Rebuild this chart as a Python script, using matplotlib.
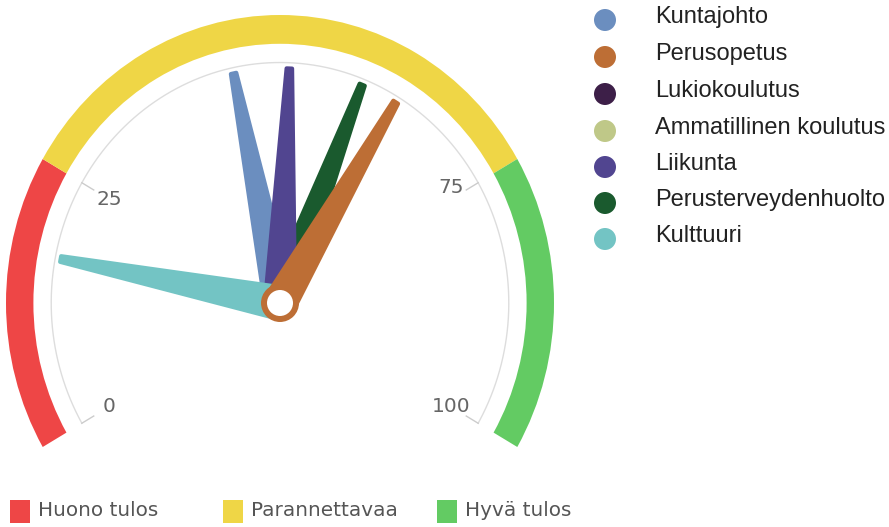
import numpy as np
import matplotlib
matplotlib.use("Agg")
import matplotlib.pyplot as plt
from matplotlib.patches import Wedge, Ellipse, Polygon

# data
series = ["Kuntajohto", "Perusopetus", "Lukiokoulutus", "Ammatillinen koulutus",
          "Liikunta", "Perusterveydenhuolto", "Kulttuuri"]
values = [45, 63, None, None, 51, 59, 17]
series_colors = ["#6b8ebf", "#bd6e35", "#3d1f48", "#bfc888", "#514590", "#1a5a2e", "#73c4c4"]
needle_z = [3, 8, 2, 2, 5, 4, 6]

bands = ["Huono tulos", "Parannettavaa", "Hyvä tulos"]
band_ranges = [(0, 25), (25, 75), (75, 100)]
band_colors = ["#ee4646", "#efd646", "#63cb63"]
tick_values = [0, 25, 75, 100]

W, H = 889, 527
cx, cy = 280, 224          # gauge centre in px (from bottom)
sx, sy = 274, 288          # px per unit

def ang(v):
    # 0 -> 210 deg, 100 -> -30 deg
    return np.deg2rad(210 - 2.4 * v)

fig = plt.figure(figsize=(W / 100, H / 100), dpi=100)
ax = fig.add_axes([0, 0, 1, 1])
ax.set_xlim(-cx / sx, (W - cx) / sx)
ax.set_ylim(-cy / sy, (H - cy) / sy)
ax.axis("off")

# colour bands
for (a, b), c in zip(band_ranges, band_colors):
    ax.add_patch(Wedge((0, 0), 1.0, 210 - 2.4 * b, 210 - 2.4 * a, width=0.1,
                       facecolor=c, edgecolor="none", zorder=1))

# thin grey arc
tt = np.linspace(ang(0), ang(100), 300)
ax.plot(0.835 * np.cos(tt), 0.835 * np.sin(tt), color="#dddddd", lw=1, zorder=1)

# ticks and labels
for v in tick_values:
    t = ang(v)
    ax.plot([0.835 * np.cos(t), 0.785 * np.cos(t)], [0.835 * np.sin(t), 0.785 * np.sin(t)],
            color="#cccccc", lw=1, zorder=1)
    dy = 0.04 if v == 75 else 0.0
    ax.text(0.72 * np.cos(t), 0.72 * np.sin(t) + dy, str(v), ha="center", va="center",
            fontsize=14.5, color="#666666", family="DejaVu Sans")

# needles
r_tip, w_base, w_top = 0.815, 0.11, 0.02
for v, c, z in zip(values, series_colors, needle_z):
    if v is None:
        continue
    t = ang(v)
    d = np.array([np.cos(t), np.sin(t)])
    p = np.array([-np.sin(t), np.cos(t)])
    pts = [p * w_base / 2, d * r_tip + p * w_top / 2,
           d * r_tip - p * w_top / 2, -p * w_base / 2]
    ax.add_patch(Polygon(pts, closed=True, facecolor=c, edgecolor=c, lw=3,
                         joinstyle="round", zorder=z))

# hub
ax.add_patch(Ellipse((0, 0), 2 * 19 / sx, 2 * 19 / sy, facecolor="#bd6e35", edgecolor="none", zorder=9))
ax.add_patch(Ellipse((0, 0), 2 * 13 / sx, 2 * 13 / sy, facecolor="white", edgecolor="none", zorder=10))

# series legend (right)
row_y = [20, 57, 94, 131, 167, 203, 239]
for name, c, yy in zip(series, series_colors, row_y):
    fig.add_artist(Ellipse((605 / W, 1 - yy / H), 22 / W, 22 / H, transform=fig.transFigure,
                           facecolor=c, edgecolor="none"))
    fig.text(655 / W, 1 - (yy - 3) / H, name, ha="left", va="center", fontsize=17,
             color="#222222", family="Liberation Sans")

# band legend (bottom)
box_x = [10, 223, 437]
for name, c, bx in zip(bands, band_colors, box_x):
    fig.add_artist(plt.Rectangle((bx / W, 1 - 523 / H), 20 / W, 23 / H, transform=fig.transFigure,
                                 facecolor=c, edgecolor="none"))
    fig.text((bx + 28) / W, 1 - 511 / H, name, ha="left", va="center", fontsize=14.4,
             color="#555555", family="DejaVu Sans")

fig.savefig("out.png", dpi=100)
